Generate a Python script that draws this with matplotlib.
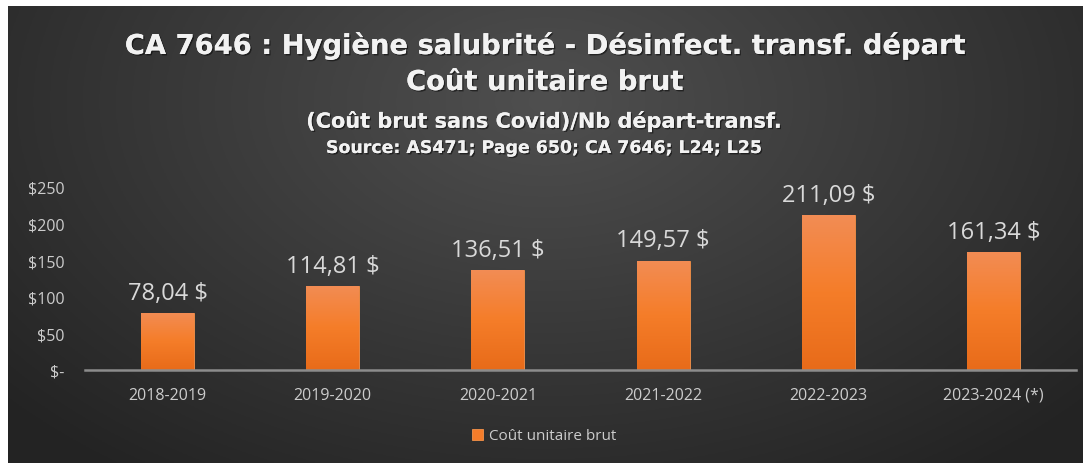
import numpy as np
import matplotlib.pyplot as plt
import matplotlib.patheffects as pe

years  = ["2018-2019", "2019-2020", "2020-2021", "2021-2022", "2022-2023", "2023-2024 (*)"]
values = [78.04, 114.81, 136.51, 149.57, 211.09, 161.34]
labels = ["78,04 $", "114,81 $", "136,51 $", "149,57 $", "211,09 $", "161,34 $"]
yticks = [0, 50, 100, 150, 200, 250]
ytick_labels = ["$-", "$50", "$100", "$150", "$200", "$250"]

plt.rcParams["font.family"] = ["Open Sans", "DejaVu Sans"]

W, H = 1089, 464
fig = plt.figure(figsize=(W / 100, H / 100), dpi=100)
fig.patch.set_facecolor("white")

# dark radial-gradient panel behind the chart
bg = fig.add_axes([8 / W, 0, (W - 14) / W, (H - 7) / H])
bg.set_axis_off()
gx, gy = np.meshgrid(np.linspace(-1, 1, 400), np.linspace(-1, 1, 200))
r = np.sqrt((gx * 0.9) ** 2 + (gy * 0.6 - 0.35) ** 2)
shade = 0.31 - 0.17 * np.clip(r, 0, 1.2) / 1.2
bg.imshow(np.dstack([shade] * 3), aspect="auto", extent=[0, 1, 0, 1], origin="lower")
bg.set_zorder(0)

ax = fig.add_axes([85 / W, (H - 371) / H, (1076 - 85) / W, (371 - 188) / H])
ax.set_zorder(1)
ax.patch.set_alpha(0)

x = np.arange(len(years))
bars = ax.bar(x, values, width=0.32, color="#f47c2a", edgecolor="#f5924a", linewidth=0.6,
              label="Coût unitaire brut")

# vertical orange gradient inside each bar
grad = np.linspace(0, 1, 100).reshape(-1, 1)
top = np.array([0.95, 0.55, 0.33])
mid = np.array([0.96, 0.49, 0.16])
bot = np.array([0.91, 0.42, 0.10])
cols = np.where(grad[..., None] < 0.5,
                bot + (mid - bot) * (grad[..., None] / 0.5),
                mid + (top - mid) * ((grad[..., None] - 0.5) / 0.5))
for b in bars:
    im = ax.imshow(cols, extent=[b.get_x(), b.get_x() + b.get_width(), 0, b.get_height()],
                   origin="lower", aspect="auto", zorder=2)
    im.set_clip_path(b)

for b, lab in zip(bars, labels):
    ax.text(b.get_x() + b.get_width() / 2, b.get_height() + 11, lab,
            ha="center", va="bottom", fontsize=17, color="#d9d9d9", zorder=3)

ax.set_xlim(-0.5, len(years) - 0.5)
ax.set_ylim(0, 250)
ax.set_yticks(yticks)
ax.set_yticklabels(ytick_labels)
ax.set_xticks(x)
ax.set_xticklabels(years)
ax.tick_params(axis="both", length=0, colors="#cccccc", labelsize=11.5)
ax.tick_params(axis="y", pad=15)
ax.tick_params(axis="x", pad=12)
for s in ["top", "right", "left"]:
    ax.spines[s].set_visible(False)
ax.spines["bottom"].set_color("#8c8c8c")
ax.spines["bottom"].set_linewidth(1.8)
ax.spines["bottom"].set_zorder(4)

shadow = [pe.withSimplePatchShadow(offset=(1, -1), shadow_rgbFace="black", alpha=0.5), pe.Normal()]
tfam = ["DejaVu Sans"]
fig.text(0.5, 1 - 47 / H, "CA 7646 : Hygiène salubrité - Désinfect. transf. départ",
         ha="center", va="center", fontsize=19.7, fontweight="bold", color="#f2f2f2",
         family=tfam, path_effects=shadow)
fig.text(0.5, 1 - 84 / H, "Coût unitaire brut",
         ha="center", va="center", fontsize=19.7, fontweight="bold", color="#f2f2f2",
         family=tfam, path_effects=shadow)
fig.text(0.5, 1 - 122 / H, "(Coût brut sans Covid)/Nb départ-transf.",
         ha="center", va="center", fontsize=15, fontweight="bold", color="#f2f2f2",
         family=tfam, path_effects=shadow)
fig.text(0.5, 1 - 149 / H, "Source: AS471; Page 650; CA 7646; L24; L25",
         ha="center", va="center", fontsize=12.5, fontweight="bold", color="#f2f2f2",
         family=tfam, path_effects=shadow)

leg = fig.legend(handles=[bars], labels=["Coût unitaire brut"], loc="center",
                 bbox_to_anchor=(0.5, 1 - 437 / H), frameon=False, fontsize=11,
                 handlelength=0.7, handleheight=0.7, handletextpad=0.4)
for t in leg.get_texts():
    t.set_color("#cccccc")

fig.savefig("out.png", dpi=100)
